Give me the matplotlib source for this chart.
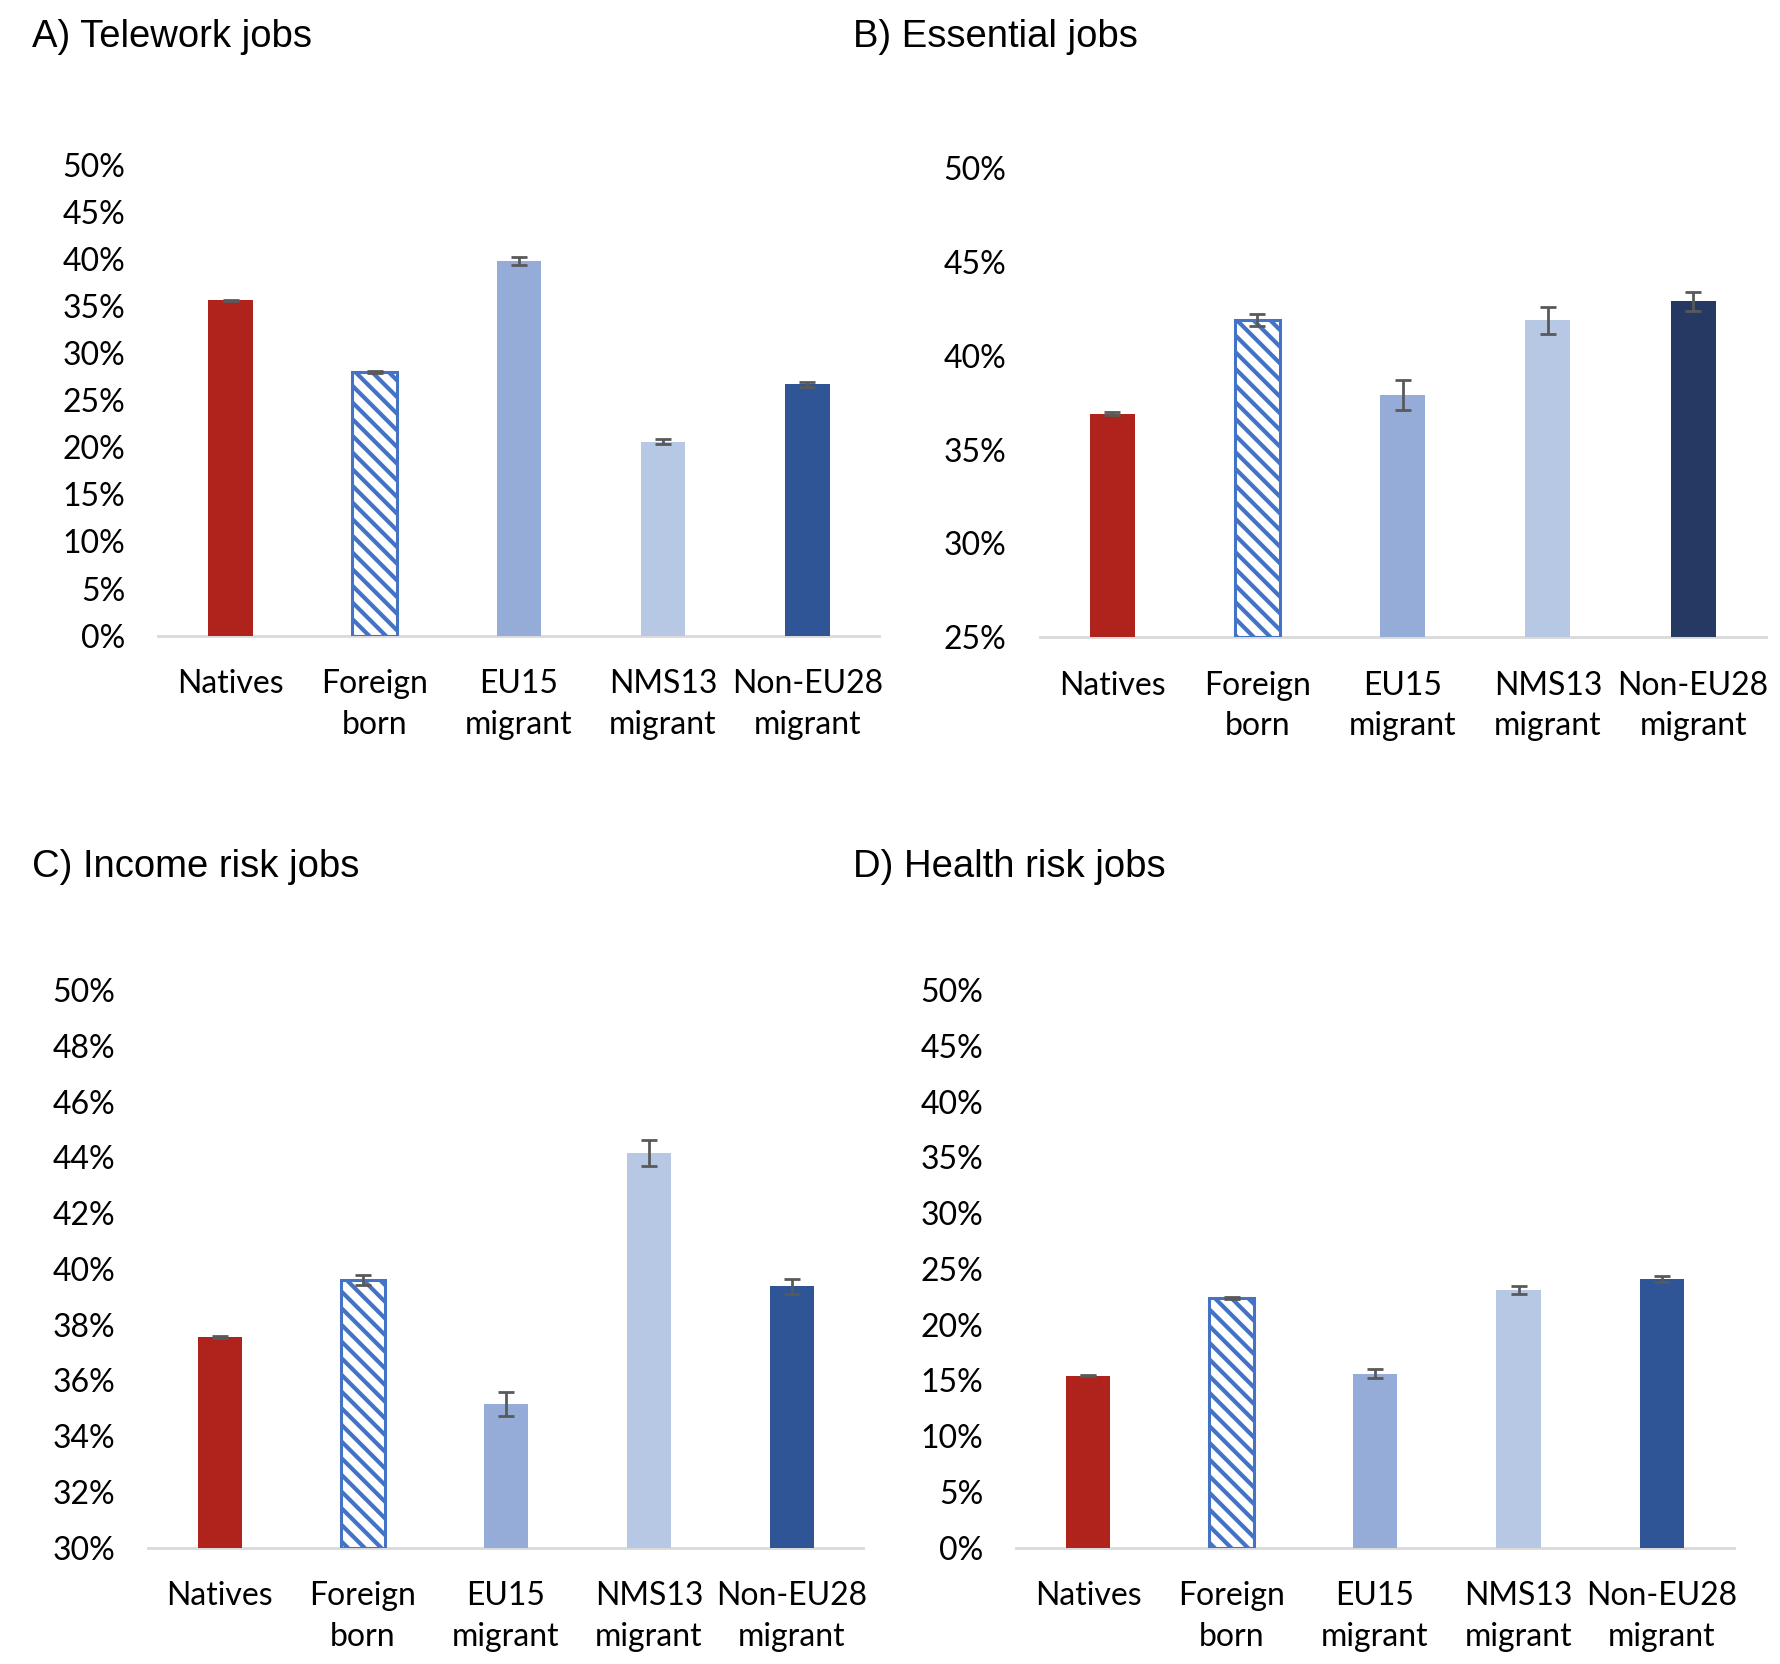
import matplotlib.pyplot as plt
from matplotlib.ticker import MultipleLocator, FuncFormatter

# categories and values (percent)
groups = ['Natives', 'Foreign\nborn', 'EU15\nmigrant', 'NMS13\nmigrant', 'Non-EU28\nmigrant']

telework = [35.6, 28.0, 39.8, 20.6, 26.7]
telework_err = [0.05, 0.15, 0.4, 0.3, 0.25]

essential = [36.9, 41.9, 37.9, 41.9, 42.9]
essential_err = [0.08, 0.34, 0.8, 0.72, 0.49]

income = [37.55, 39.6, 35.15, 44.15, 39.37]
income_err = [0.05, 0.18, 0.42, 0.46, 0.26]

health = [15.4, 22.4, 15.6, 23.1, 24.1]
health_err = [0.05, 0.1, 0.38, 0.4, 0.29]

plt.rcParams['hatch.linewidth'] = 3.0
tick_font = ['Lato', 'DejaVu Sans']
title_font = ['Liberation Sans', 'DejaVu Sans']

fig = plt.figure(figsize=(17.8, 16.64), dpi=100)

panels = [
    # title, values, errors, (ymin, ymax), step, axes rect, title pos, dark colour
    ('A) Telework jobs', telework, telework_err, (0, 50), 5,
     [0.089, 0.618, 0.405, 0.283], (0.018, 0.978), '#2F5597'),
    ('B) Essential jobs', essential, essential_err, (25, 50), 5,
     [0.584, 0.617, 0.408, 0.282], (0.479, 0.978), '#253963'),
    ('C) Income risk jobs', income, income_err, (30, 50), 2,
     [0.0834, 0.070, 0.4016, 0.335], (0.018, 0.479), '#2F5597'),
    ('D) Health risk jobs', health, health_err, (0, 50), 5,
     [0.571, 0.070, 0.403, 0.335], (0.479, 0.479), '#2F5597'),
]

for title, vals, errs, ylim, step, rect, tpos, dark in panels:
    ax = fig.add_axes(rect)
    colors = ['#AF231C', 'white', '#95ACD9', '#B7C8E5', dark]
    x = list(range(len(groups)))
    bars = ax.bar(x, [v - ylim[0] for v in vals], bottom=ylim[0], width=0.31,
                  color=colors, linewidth=0, zorder=2)
    fb = bars[1]
    fb.set_edgecolor('#4472C4')
    fb.set_hatch('\\\\')
    fb.set_linewidth(2.2)
    ax.errorbar(x, vals, yerr=errs, fmt='none', ecolor='#595959',
                elinewidth=2, capsize=6, capthick=2, zorder=3)

    ax.set_xlim(-0.5, len(groups) - 0.5)
    ax.set_ylim(*ylim)
    ax.yaxis.set_major_locator(MultipleLocator(step))
    ax.yaxis.set_major_formatter(FuncFormatter(lambda v, p: '{:.0f}%'.format(v)))
    ax.set_xticks(x)
    ax.set_xticklabels(groups, family=tick_font, fontsize=23, linespacing=1.45)
    for lab in ax.get_yticklabels():
        lab.set_family(tick_font)
        lab.set_fontsize(23)
    ax.tick_params(axis='both', length=0)
    ax.tick_params(axis='x', pad=24)
    ax.tick_params(axis='y', pad=24)
    for s in ['top', 'right', 'left']:
        ax.spines[s].set_visible(False)
    ax.spines['bottom'].set_color('#D9D9D9')
    ax.spines['bottom'].set_linewidth(2)
    ax.spines['bottom'].set_zorder(1)

    fig.text(tpos[0], tpos[1], title, family=title_font, fontsize=27.5,
             ha='left', va='center')

fig.savefig('out.png', dpi=100)
